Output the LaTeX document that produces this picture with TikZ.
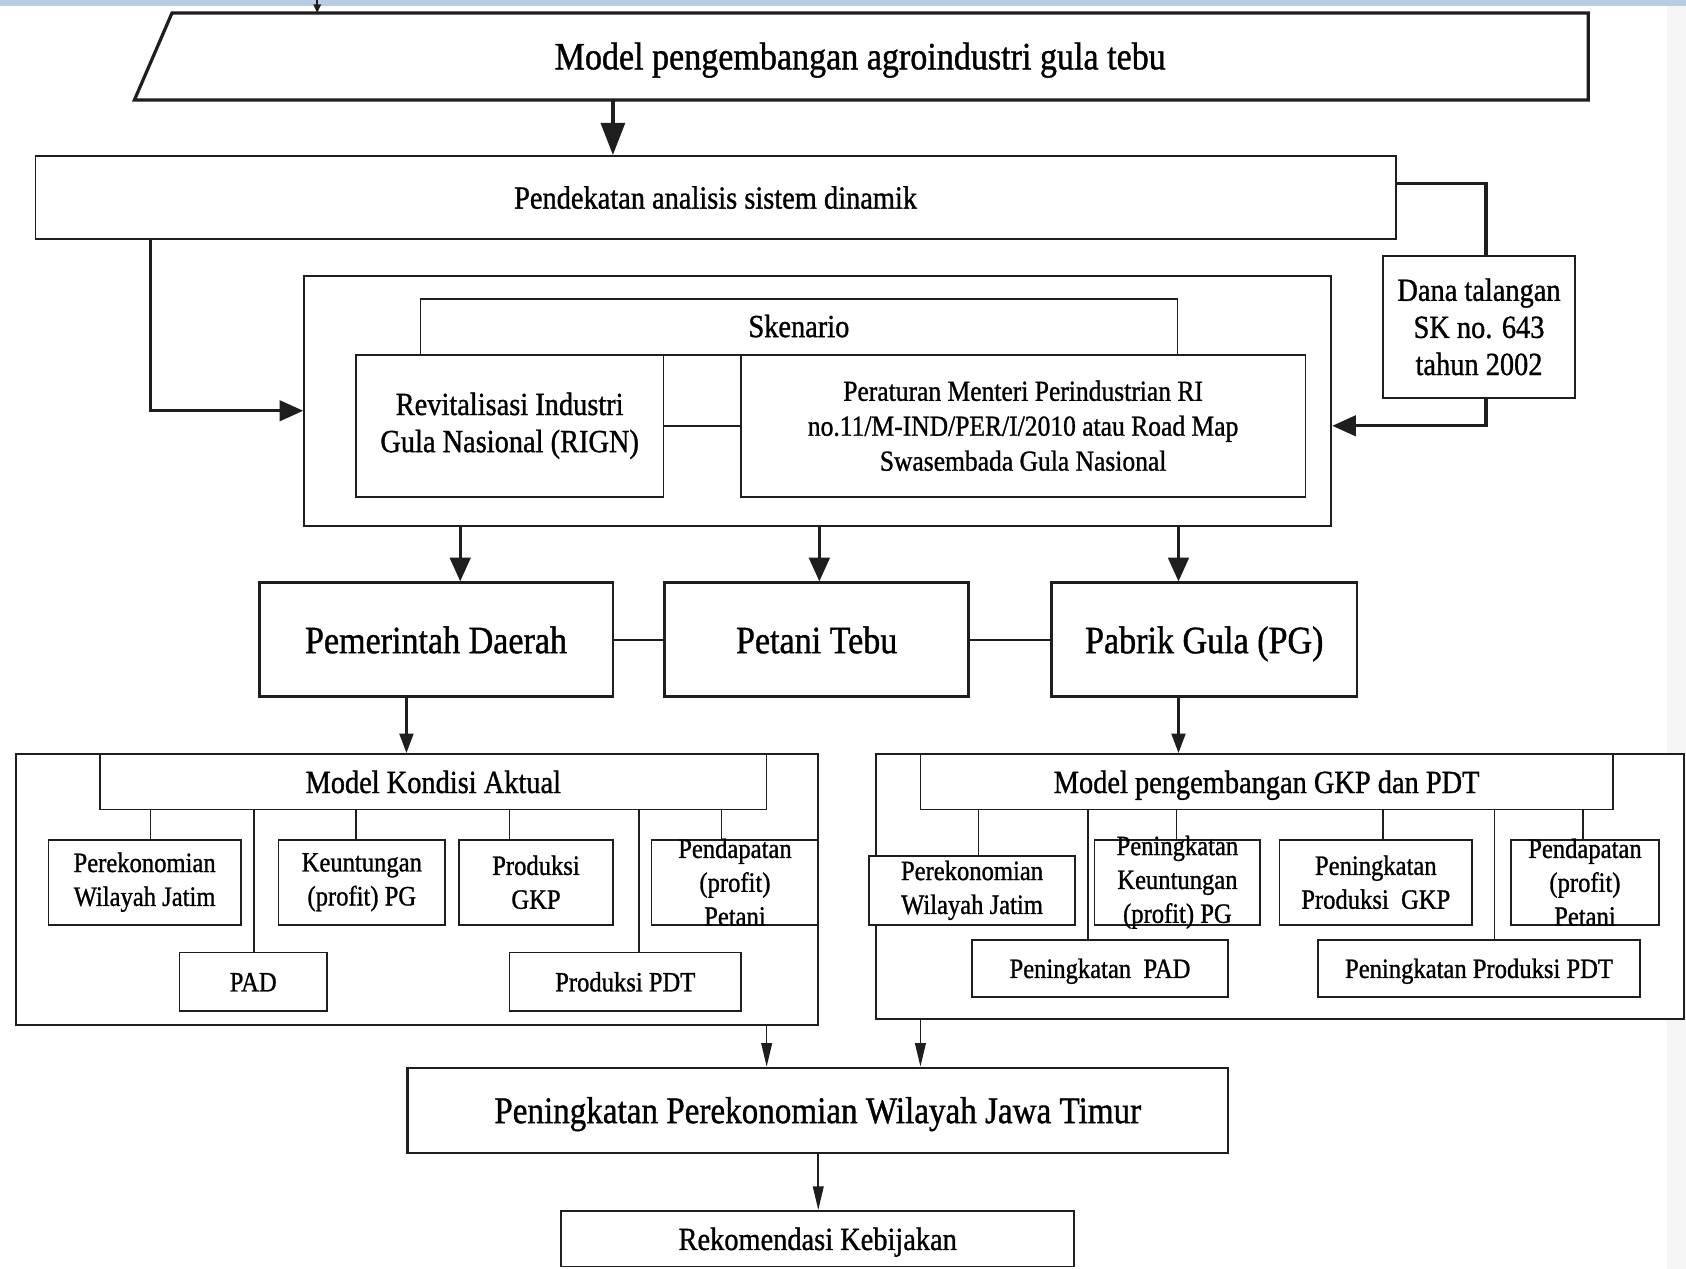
\documentclass[tikz,border=0pt]{standalone}
\usepackage{fontspec}
\setmainfont{Liberation Serif}[FakeStretch=0.88, FakeBold=1]
\usetikzlibrary{arrows.meta}
\definecolor{ln}{HTML}{1E1E1E}
\definecolor{band}{HTML}{B8CCE4}
\newcommand\fz[2]{\fontsize{#1}{#2}\selectfont}
% vertical connector between two nodes at a given x position
\newcommand\vcon[4]{\path (#4,0) coordinate (vx); \draw[#1] (#2 -| vx) -- (#3 -| vx);}

\begin{document}
\begin{tikzpicture}[x=1pt,y=-1pt,
  frame/.style={draw=ln, fill=white, inner sep=0pt, line width=1.5pt},
  heavy/.style={frame, line width=2.6pt},
  bx/.style n args={2}{minimum width=#1pt, minimum height=#2pt},
  lbl/.style={inner sep=0pt, align=center, text=black},
  fbig/.style={font=\fz{36}{40}},
  fmid/.style={font=\fz{30}{34.5}},
  fsma/.style={font=\fz{27}{32.5}},
  fsub/.style={font=\fz{26}{31.5}},
  ol/.style={text height=#1pt, text depth=1pt},
  link/.style={draw=ln, line width=1.5pt},
  bigarrow/.style={draw=ln, line width=4pt, -{Triangle[length=30pt,width=22pt]}},
  thkarrow/.style={draw=ln, line width=3pt, -{Triangle[length=22pt,width=19pt]}},
  midarrow/.style={draw=ln, line width=2pt, -{Triangle[length=18pt,width=13pt]}},
  thinarrow/.style={draw=ln, line width=1.5pt, -{Triangle[length=22pt,width=10pt]}},
  tinyarrow/.style={draw=ln, line width=1.5pt, -{Triangle[length=8pt,width=7pt]}},
]
\useasboundingbox (0,0) rectangle (1568,1180);
\fill[white] (0,0) rectangle (1568,1180);
\fill[black!4] (1550,0) rectangle (1568,1180);
\fill[band] (0,0) rectangle (1568,6);

% ---- title parallelogram ----
\draw[ln, line width=3pt, fill=white, line join=miter]
  (160,12) -- (1477,12) -- (1477,93) -- (125,93) -- cycle;
\node[lbl, fbig, ol=26] (title) at (800,52) {Model pengembangan agroindustri gula tebu};
\coordinate (tsrc) at (295,0);
\coordinate (tin) at (295,12);
\draw[tinyarrow] (tsrc) -- (tin);

% ---- approach ----
\node[frame, bx={1265}{77}, lbl, fmid, ol=22] (pend) at (665.5,183.5) {Pendekatan analisis sistem dinamik};
\coordinate (tb) at (570,93);
\draw[bigarrow] (tb) -- (tb |- pend.north);

% ---- scenario block ----
\node[frame, line width=2pt, bx={955}{232}] (sken) at (760.5,373) {};
\node[frame, bx={704}{52}] (skbar) at (743,304) {};
\node[lbl, fmid, ol=22] (skbar-t) at (743,303) {Skenario};
\node[frame, bx={286}{132}, lbl, fmid] (rign) at (474,396) {Revitalisasi Industri\\Gula Nasional (RIGN)};
\node[frame, bx={525}{132}, lbl, fsma] (per) at (951.5,396)
  {Peraturan Menteri Perindustrian RI\\no.11/M-IND/PER/I/2010 atau Road Map\\Swasembada Gula Nasional};
\draw[link] (rign.east) -- (per.west);

% ---- bailout fund ----
\node[frame, bx={179}{132}, lbl, fmid] (dana) at (1375.5,304) {Dana talangan\\SK no. 643\\tahun 2002};
\coordinate (k1) at (140,382);
\coordinate (k2) at (1382,171);
\coordinate (k3) at (1382,396);
\draw[thkarrow] (pend.south -| k1) |- (sken.west |- k1);
\draw[ln, line width=3pt] (pend.east |- k2) -| (dana.north -| k2);
\draw[thkarrow] (dana.south -| k3) |- (sken.east |- k3);

% ---- actors ----
\node[heavy, bx={329}{106}, lbl, fbig, ol=26] (pemda) at (405.5,595) {Pemerintah Daerah};
\node[heavy, bx={283}{106}, lbl, fbig, ol=26] (petani) at (759.5,595) {Petani Tebu};
\node[heavy, bx={284}{106}, lbl, fbig, ol=26] (pg) at (1120,595) {Pabrik Gula (PG)};
\draw[link] (pemda.east) -- (petani.west);
\draw[link] (petani.east) -- (pg.west);
\vcon{thkarrow}{sken.south}{pemda.north}{428}
\vcon{thkarrow}{sken.south}{petani.north}{762}
\vcon{thkarrow}{sken.south}{pg.north}{1096}

% ---- current condition model ----
\node[frame, line width=2pt, bx={746}{252}] (lgrp) at (388,827) {};
\node[frame, bx={620}{52}, lbl, fmid, ol=22] (mka) at (403,727) {Model Kondisi Aktual};
\node[frame, bx={179}{79}, lbl, fsub] (l1) at (134.5,820.5) {Perekonomian\\Wilayah Jatim};
\node[frame, bx={155}{79}, lbl, fsub] (l2) at (336.5,820.5) {Keuntungan\\(profit) PG};
\node[frame, bx={143}{79}, lbl, fsub] (l3) at (498.5,820.5) {Produksi\\GKP};
\node[frame, bx={155}{79}] (l4) at (683.5,820.5) {};
\node[lbl, fsub] (l4-t) at (683.5,820.5) {Pendapatan\\(profit)\\Petani};
\node[frame, bx={137}{54}, lbl, fsub, ol=19] (l5) at (235.5,913) {PAD};
\node[frame, bx={215}{54}, lbl, fsub, ol=19] (l6) at (581.5,913) {Produksi PDT};
\vcon{midarrow}{pemda.south}{mka.north}{378}
\vcon{link}{mka.south}{l1.north}{140}
\vcon{link}{mka.south}{l2.north}{331}
\vcon{link}{mka.south}{l3.north}{474}
\vcon{link}{mka.south}{l4.north}{671}
\vcon{link}{mka.south}{l5.north}{236}
\vcon{link}{mka.south}{l6.north}{594}

% ---- development model ----
\node[frame, line width=2pt, bx={751}{247}] (rgrp) at (1190.5,824.5) {};
\node[frame, bx={644}{52}, lbl, fmid, ol=22] (mgkp) at (1178,727) {Model pengembangan GKP dan PDT};
\node[frame, bx={192}{64}, lbl, fsub] (r1) at (904,828) {Perekonomian\\Wilayah Jatim};
\node[frame, bx={154}{79}] (r2) at (1095,820.5) {};
\node[lbl, fsub] (r2-t) at (1095,820.5) {Peningkatan\\Keuntungan\\(profit) PG};
\node[frame, bx={179}{79}, lbl, fsub] (r3) at (1279.5,820.5) {Peningkatan\\Produksi~ GKP};
\node[frame, bx={138}{79}] (r4) at (1474,820.5) {};
\node[lbl, fsub] (r4-t) at (1474,820.5) {Pendapatan\\(profit)\\Petani};
\node[frame, bx={238}{53}, lbl, fsub, ol=19] (r5) at (1023,900.5) {Peningkatan~ PAD};
\node[frame, bx={299}{53}, lbl, fsub, ol=19] (r6) at (1375.5,900.5) {Peningkatan Produksi PDT};
\vcon{midarrow}{pg.south}{mgkp.north}{1096}
\vcon{link}{mgkp.south}{r1.north}{910}
\vcon{link}{mgkp.south}{r2.north}{1094}
\vcon{link}{mgkp.south}{r3.north}{1286}
\vcon{link}{mgkp.south}{r4.north}{1472}
\vcon{link}{mgkp.south}{r5.north}{1012}
\vcon{link}{mgkp.south}{r6.north}{1390}

% ---- outcome ----
\node[frame, line width=2pt, bx={763}{79}, lbl, font=\fz{35}{40}, ol=25] (ppw) at (760.5,1032.5)
  {Peningkatan Perekonomian Wilayah Jawa Timur};
\node[frame, bx={477}{52}, lbl, fmid, ol=22] (rek) at (760.5,1152) {Rekomendasi Kebijakan};
\vcon{thinarrow}{lgrp.south}{ppw.north}{713}
\vcon{thinarrow}{rgrp.south}{ppw.north}{856}
\vcon{thinarrow}{ppw.south}{rek.north}{761}
\end{tikzpicture}
\end{document}
